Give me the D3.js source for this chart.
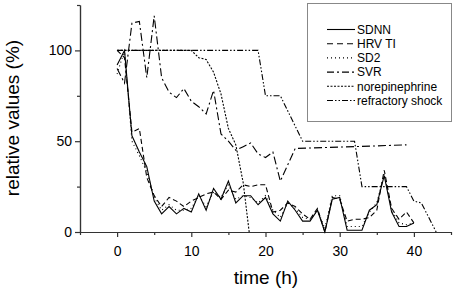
<!DOCTYPE html>
<html>
<head>
    <script src="https://cdnjs.cloudflare.com/ajax/libs/d3/7.8.5/d3.min.js"></script>
    <style>
        body { margin: 0; background: #fff; }
        svg { font-family: "Liberation Sans", Arial, sans-serif; }
        .line { fill: none; stroke: #000; stroke-width: 1.1px; }
        .axis path, .axis line { stroke: #333; stroke-width: 1.2px; }
        .axis text { font-size: 14px; fill: #000; }
        .title { font-size: 19px; fill: #000; }
        .legend text { font-size: 12px; fill: #000; }
    </style>
</head>
<body>
    <div id="chart"></div>
    <script>
        const width = 454, height = 293;

        // data (time in hours, relative values in %)
        const hours = d3.range(0, 41);
        const sdnn = [92,100,53,44,36,17,10,14,10,13,11,21,12,24,18,28,16,20,20,15,19,10,6,17,12,6,6,12,0,18,19,1,1,1,12,15,31,11,3,3,5];
        const hrvTi = [100,96,55,57,30,20,14,19,17,14,17,19,21,22,18,23,22,26,25,26,26,11,12,16,14,10,7,13,0,19,18,6,7,7,8,12,34,13,7,11,5];
        const sd2 = [87,100,50,42,33,19,12,15,12,12,13,20,14,22,19,26,18,20,19,16,20,12,8,16,13,8,7,12,2,20,20,3,3,3,11,16,32,12,5,4,5];
        const svrTime = [0,1,2,3,4,5,6,7,8,9,10,11,12,13,14,15,16,17,18,19,20,21,22,23,24,32,39];
        const svr = [90,82,115,116,85,119,85,77,74,79,72,69,65,78,54,50,45,47,49,43,41,44,28,37,46,47,48];
        const norepiTime = [0,10,11,12,13,14,15,16,17,17.8];
        const norepi = [100,100,96,95,88,76,57,48,27,0];
        const shockTime = [0,19,20,22,25,32,33,39,40,41,43];
        const shock = [100,100,75,75,50,50,25,25,17,16,0];

        const seriesNames = ["SDNN", "HRV TI", "SD2", "SVR", "norepinephrine", "refractory shock"];
        const xTicks = [0, 10, 20, 30, 40];
        const yTicks = [0, 50, 100];

        const dashes = ["none", "5,3", "1,3", "8,3,2,3", "2,1.5", "6,2,1.5,2,1.5,2"];
        const legendDashes = ["none", "6,4", "1,3", "7,3,2,3", "2,1.5", "6,2,1.5,2,1.5,2"];

        const series = [
            hours.map((t, i) => [t, sdnn[i]]),
            hours.map((t, i) => [t, hrvTi[i]]),
            hours.map((t, i) => [t, sd2[i]]),
            svrTime.map((t, i) => [t, svr[i]]),
            norepiTime.map((t, i) => [t, norepi[i]]),
            shockTime.map((t, i) => [t, shock[i]])
        ];

        const svg = d3.select("#chart").append("svg").attr("width", width).attr("height", height);

        const x = d3.scaleLinear().domain([-5, 45]).range([80, 451]);
        const y = d3.scaleLinear().domain([0, 125]).range([232, 5]);

        // minor ticks
        svg.append("g").attr("class", "axis")
            .attr("transform", "translate(0,232)")
            .call(d3.axisBottom(x).tickValues([-5, 5, 15, 25, 35, 45]).tickSize(3).tickSizeOuter(0).tickFormat(""));
        svg.append("g").attr("class", "axis")
            .attr("transform", "translate(80,0)")
            .call(d3.axisLeft(y).tickValues([25, 75, 125]).tickSize(3).tickSizeOuter(0).tickFormat(""));

        svg.append("g").attr("class", "axis")
            .attr("transform", "translate(0,232)")
            .call(d3.axisBottom(x).tickValues(xTicks).tickSize(5).tickSizeOuter(0).tickPadding(9));
        svg.append("g").attr("class", "axis")
            .attr("transform", "translate(80,0)")
            .call(d3.axisLeft(y).tickValues(yTicks).tickSize(5).tickSizeOuter(0).tickPadding(3));

        const line = d3.line().x(d => x(d[0])).y(d => y(d[1]));

        svg.append("g").selectAll("path")
            .data(series)
            .enter().append("path")
            .attr("class", "line")
            .attr("stroke-dasharray", (d, i) => dashes[i])
            .attr("d", line);

        // axis titles
        svg.append("text").attr("class", "title")
            .attr("x", 266).attr("y", 284)
            .attr("text-anchor", "middle")
            .text("time (h)");
        svg.append("text").attr("class", "title")
            .attr("transform", "translate(19,118) rotate(-90)")
            .attr("text-anchor", "middle")
            .text("relative values (%)");

        // legend
        const legend = svg.append("g").attr("class", "legend");
        legend.append("rect")
            .attr("x", 307.5).attr("y", 3.5)
            .attr("width", 144).attr("height", 118)
            .attr("fill", "#fff").attr("stroke", "#888").attr("stroke-width", 1);

        const rows = legend.selectAll("g.row")
            .data(seriesNames)
            .enter().append("g")
            .attr("class", "row")
            .attr("transform", (d, i) => `translate(0,${29.5 + i * 14.2})`);
        rows.append("line")
            .attr("x1", 327).attr("x2", 355)
            .attr("stroke", "#000").attr("stroke-width", 1.1)
            .attr("stroke-dasharray", (d, i) => legendDashes[i]);
        rows.append("text")
            .attr("x", 357).attr("y", 4.3)
            .text(d => d);
    </script>
</body>
</html>
